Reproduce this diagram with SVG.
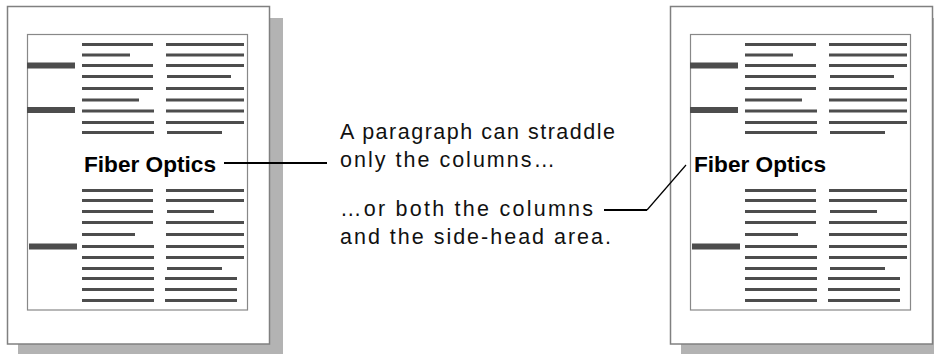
<svg xmlns="http://www.w3.org/2000/svg" xmlns:xlink="http://www.w3.org/1999/xlink" width="934" height="355" viewBox="0 0 934 355">
  <style>
    .shadow { fill: #b3b3b3; }
    .page { fill: #ffffff; stroke: #808080; stroke-width: 1.5; }
    .inner { fill: none; stroke: #888888; stroke-width: 1.2; }
    .bars { fill: none; stroke: #4d4d4d; stroke-width: 3; }
    .side { fill: none; stroke: #4d4d4d; stroke-width: 6; }
    .head { font-family: "Liberation Sans", Arial, sans-serif; font-weight: bold; font-size: 22.5px; fill: #000; }
    .body { font-family: "Liberation Sans", Arial, sans-serif; font-size: 21.5px; fill: #111; }
    .conn { fill: none; stroke: #000; stroke-width: 2; }
    .conn-thin { fill: none; stroke: #000; stroke-width: 1.2; }
  </style>
  <defs>
    <g id="pageBody">
      <rect class="shadow" x="18" y="18" width="265" height="336"/>
      <rect class="page" x="7.5" y="6.5" width="262" height="337.5"/>
      <rect class="inner" x="27.5" y="34.5" width="220" height="275.5"/>
      <path class="side" d="M27 65.5H75M27 110H75M29 246.5H77"/>
      <path class="bars" d="M82 44.5H153M82 55H130M82 65.5H153M82 76.5H153M82 88.5H153M82 100H139M82 111H154M82 122.5H154M82 132.5H154
        M166 44.5H244M166 55H244M166 65.5H244M167 76.5H231M166 88.5H244M166 100H244M166 111H244M166 122.5H244M167 132.5H222
        M82 190.5H153M82 200.5H153M82 211.5H153M82 222.5H153M82 234.5H135M82 246.5H154M82 257.5H154M82 268.5H154M82 278.5H154M82 289.5H154M82 300.5H154
        M166 190.5H244M166 200.5H244M167 211.5H214M166 222.5H244M166 234.5H244M166 246.5H244M166 257.5H244M167 268.5H222M165 278.5H237M165 289.5H237M165 300.5H237"/>
    </g>
  </defs>

  <g id="page-left">
    <use xlink:href="#pageBody"/>
    <text class="head" x="84" y="171.5" textLength="132" lengthAdjust="spacingAndGlyphs">Fiber Optics</text>
  </g>

  <g id="page-right">
    <use xlink:href="#pageBody" transform="translate(663,0)"/>
    <text class="head" x="694" y="171.5" textLength="132" lengthAdjust="spacingAndGlyphs">Fiber Optics</text>
  </g>

  <g id="caption">
    <text class="body" x="340" y="139" textLength="275" lengthAdjust="spacing">A paragraph can straddle</text>
    <text class="body" x="340" y="167" textLength="215" lengthAdjust="spacing">only the columns…</text>
    <text class="body" x="340" y="216" textLength="253" lengthAdjust="spacing">…or both the columns</text>
    <text class="body" x="340" y="244" textLength="271" lengthAdjust="spacing">and the side-head area.</text>
  </g>

  <g id="connectors">
    <path class="conn" d="M224 163H327"/>
    <path class="conn" d="M604 210H647"/>
    <path class="conn-thin" d="M647 210L686 165"/>
  </g>
</svg>
